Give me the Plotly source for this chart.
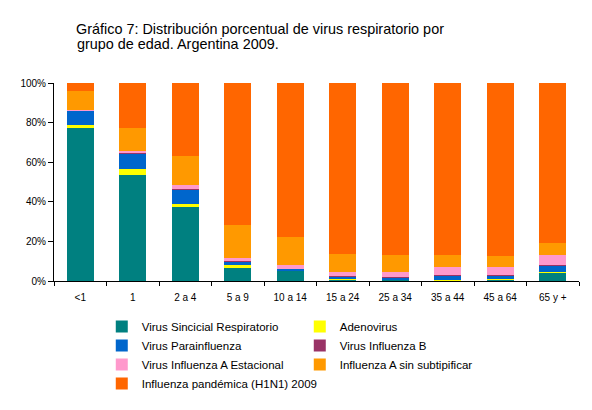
import plotly.graph_objects as go

grupos = ["<1", "1", "2 a 4", "5 a 9", "10 a 14", "15 a 24", "25 a 34", "35 a 44", "45 a 64", "65 y +"]

vsr = [77.6, 53.6, 37.3, 7.0, 5.2, 1.0, 0.6, 0.5, 1.0, 4.4]
adenovirus = [1.0, 3.0, 1.7, 1.0, 0.2, 0.3, 0.2, 0.1, 0.2, 0.4]
parainfluenza = [7.6, 8.0, 7.4, 2.0, 0.8, 1.0, 1.0, 2.1, 1.6, 3.2]
influenza_b = [0.0, 0.1, 0.1, 0.1, 0.1, 0.1, 0.1, 0.1, 0.1, 0.1]
influenza_a_est = [0.2, 1.0, 1.8, 1.7, 1.8, 2.4, 2.4, 4.1, 4.2, 4.9]
influenza_a_sin = [9.6, 11.8, 15.0, 16.6, 14.0, 8.6, 8.6, 6.4, 5.4, 6.0]
h1n1 = [4.0, 22.5, 36.7, 71.6, 77.9, 86.6, 87.1, 86.7, 87.5, 81.0]

series = [
    ("Virus Sincicial Respiratorio", vsr, "#008080"),
    ("Adenovirus", adenovirus, "#FFFF00"),
    ("Virus Parainfluenza", parainfluenza, "#0066CC"),
    ("Virus Influenza B", influenza_b, "#993366"),
    ("Virus Influenza A Estacional", influenza_a_est, "#FF99CC"),
    ("Influenza A sin subtipificar", influenza_a_sin, "#FF9900"),
    ("Influenza pandémica (H1N1) 2009", h1n1, "#FF6600"),
]

fig = go.Figure()
for nombre, valores, color in series:
    fig.add_trace(go.Bar(x=grupos, y=valores, name=nombre, marker_color=color,
                         marker_line_width=0))

# page body adds 8px, so figure is 584x402
fig.update_layout(
    width=584, height=402,
    barmode="stack", bargap=0.49,
    plot_bgcolor="white", paper_bgcolor="white",
    font=dict(family="Liberation Sans, Arial", size=10, color="black"),
    margin=dict(l=38, r=13, t=75, b=128),
    title=dict(text="Gráfico 7: Distribución porcentual de virus respiratorio por",
               x=68 / 584, xanchor="left", y=1 - 21 / 402, yanchor="middle",
               font=dict(size=14.4)),
    legend=dict(orientation="h", traceorder="normal", x=0.091, xanchor="left",
                y=-0.156, yanchor="top", entrywidth=153, itemwidth=30,
                font=dict(size=11.5), tracegroupgap=0),
    showlegend=True,
)
fig.add_annotation(text="grupo de edad. Argentina 2009.", xref="paper", yref="paper",
                   x=(60 - 38) / 533, y=(274 - 36) / 199, xanchor="left", yanchor="middle",
                   showarrow=False, font=dict(size=14.4), borderpad=0)
fig.update_xaxes(showline=True, linecolor="black", linewidth=1, ticks="outside",
                 tickson="boundaries", ticklen=4, tickcolor="black",
                 ticklabelstandoff=7)
fig.update_yaxes(range=[0, 100], tickvals=[0, 20, 40, 60, 80, 100],
                 ticktext=["0%", "20%", "40%", "60%", "80%", "100%"],
                 showline=True, linecolor="black", linewidth=1, ticks="outside",
                 ticklen=5, tickcolor="black", showgrid=False, zeroline=False)

fig.write_html("out.html")
